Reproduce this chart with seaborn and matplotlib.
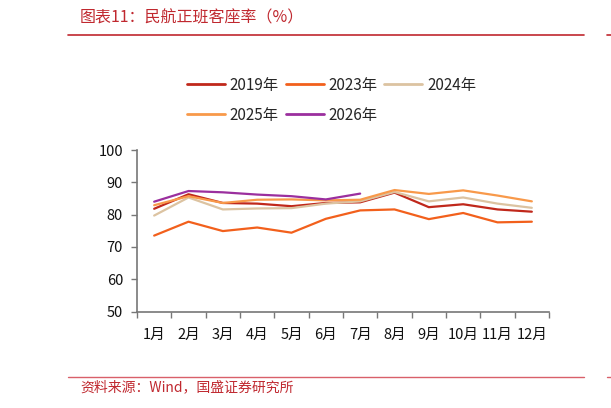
import numpy as np
import pandas as pd
import matplotlib.pyplot as plt
import seaborn as sns
from matplotlib.lines import Line2D

months = ['1月', '2月', '3月', '4月', '5月', '6月', '7月', '8月', '9月', '10月', '11月', '12月']

y2019 = [81.8, 86.3, 83.6, 83.4, 82.6, 83.6, 83.8, 86.8, 82.3, 83.2, 81.6, 80.9]
y2023 = [73.5, 77.8, 74.9, 76.0, 74.4, 78.7, 81.3, 81.6, 78.6, 80.5, 77.6, 77.8]
y2024 = [79.7, 85.3, 81.6, 81.9, 82.0, 83.4, 84.1, 87.0, 84.1, 85.3, 83.4, 82.1]
y2025 = [82.9, 85.7, 83.6, 84.6, 84.7, 84.4, 84.6, 87.6, 86.4, 87.5, 85.9, 84.1]
y2026 = [84.0, 87.3, 86.9, 86.2, 85.7, 84.7, 86.5]

series = {'2019年': y2019, '2023年': y2023, '2024年': y2024, '2025年': y2025, '2026年': y2026}
colors = {'2019年': '#C0281B', '2023年': '#F2601C', '2024年': '#DCC3A1',
          '2025年': '#F8994A', '2026年': '#9B2F9E'}

rows = []
for name, vals in series.items():
    for i, v in enumerate(vals):
        rows.append({'month': i, 'rate': v, 'year': name})
df = pd.DataFrame(rows)

sns.set_style('white')
plt.rcParams['font.family'] = ['Noto Sans CJK SC', 'DejaVu Sans']

fig = plt.figure(figsize=(6.11, 4.08), dpi=100)
ax = fig.add_axes([137 / 611, 1 - 311.5 / 408, 412 / 611, 161.5 / 408])

sns.lineplot(data=df, x='month', y='rate', hue='year', palette=colors,
             linewidth=1.6, ax=ax, legend=False)

ax.set_xlim(-0.5, 11.5)
ax.set_ylim(50, 100)
ax.set_yticks([50, 60, 70, 80, 90, 100])
ax.set_xticks(range(12))
ax.set_xticklabels(months)
ax.set_xticks(np.arange(-0.5, 12, 1), minor=True)
ax.tick_params(left=True, bottom=True, which='both')
ax.tick_params(axis='x', which='major', length=0, pad=12, labelsize=10.5, labelcolor='#111111')
ax.tick_params(axis='x', which='minor', length=4, direction='out', color='#777777', width=1)
ax.tick_params(axis='y', length=4, direction='out', color='#777777', width=1,
               labelsize=10.5, labelcolor='#111111', pad=6)
ax.set_xlabel('')
ax.set_ylabel('')
for s in ['top', 'right']:
    ax.spines[s].set_visible(False)
for s in ['left', 'bottom']:
    ax.spines[s].set_color('#777777')
    ax.spines[s].set_linewidth(1.2)

# matplotlib fills legend columns first, so reorder to read row by row
order = ['2019年', '2025年', '2023年', '2026年', '2024年']
handles = [Line2D([0], [0], color=colors[k], lw=2) for k in order]
fig.legend(handles, order, ncol=3, frameon=False,
           loc='upper left', bbox_to_anchor=(173 / 611, 1 - 63 / 408),
           fontsize=11, handlelength=2.5, handletextpad=0.3,
           columnspacing=0.45, labelspacing=0.85)

red = '#C0282F'
fig.text(80 / 611, 1 - 18 / 408, '图表11：民航正班客座率（%）', color=red,
         fontsize=11.5, va='center', ha='left', style='italic')
fig.add_artist(Line2D([68 / 611, 584 / 611], [1 - 35 / 408] * 2, color=red, lw=1.2))
fig.add_artist(Line2D([607 / 611, 1], [1 - 35 / 408] * 2, color=red, lw=1.2))
fig.add_artist(Line2D([68 / 611, 584 / 611], [1 - 377 / 408] * 2, color='#D9606A', lw=1))
fig.add_artist(Line2D([607 / 611, 1], [1 - 377 / 408] * 2, color='#D9606A', lw=1))
fig.text(80 / 611, 1 - 387 / 408, '资料来源：Wind，国盛证券研究所', color=red,
         fontsize=10, va='center', ha='left', style='italic')

fig.savefig('out.png', dpi=100)
